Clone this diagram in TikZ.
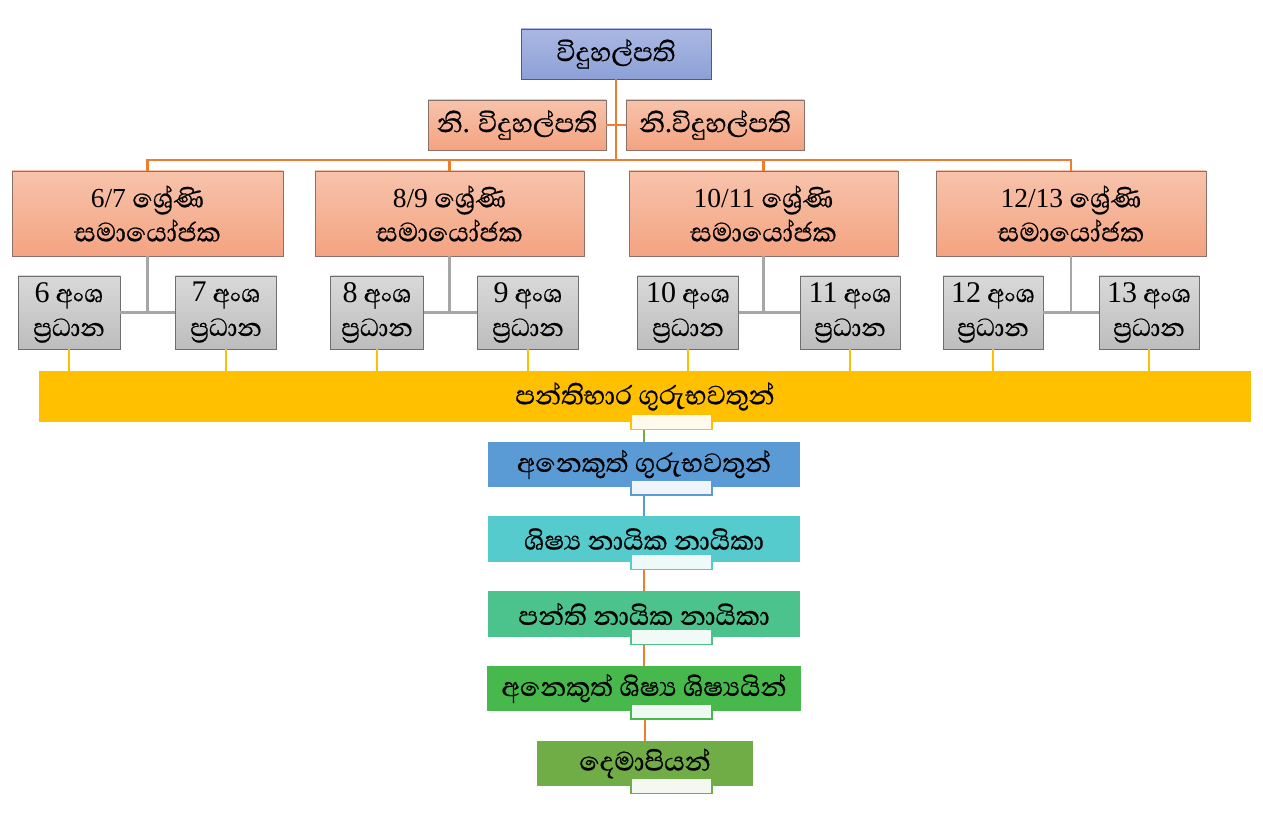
\documentclass[tikz,border=0pt]{standalone}
\usepackage{fontspec}
\setmainfont{Liberation Serif}
\newfontfamily\sinfont[Script=Sinhala,Scale=1.3,FakeBold=0.6]{Abhaya Libre}
\newcommand\numtxt[2]{{\fontsize{#1}{#1}\selectfont\rmfamily #2}}
\definecolor{topA}{HTML}{AAB7E2}
\definecolor{topB}{HTML}{8DA1D7}
\definecolor{topline}{HTML}{4F5B7C}
\definecolor{orA}{HTML}{F7C3AB}
\definecolor{orB}{HTML}{F4A381}
\definecolor{orline}{HTML}{8A7068}
\definecolor{grA}{HTML}{D9D9D9}
\definecolor{grB}{HTML}{BDBDBD}
\definecolor{grline}{HTML}{6E6E6E}
\definecolor{linor}{HTML}{ED7D31}
\definecolor{lingr}{HTML}{A6A6A6}
\definecolor{yel}{HTML}{FFC000}
\definecolor{blu}{HTML}{5B9BD5}
\definecolor{cya}{HTML}{55CBCD}
\definecolor{grnA}{HTML}{4CC38D}
\definecolor{grnB}{HTML}{47B84C}
\definecolor{grnC}{HTML}{70AD47}
\begin{document}
\begin{tikzpicture}[x=1pt,y=-1pt,
  base/.style={inner sep=0pt, align=center},
  topbox/.style={base, draw=topline, line width=0.9pt, top color=topA, bottom color=topB, font=\sinfont\fontsize{26}{30}\selectfont},
  orbox/.style={base, draw=orline, line width=0.9pt, top color=orA, bottom color=orB},
  greybox/.style={base, draw=grline, line width=0.9pt, top color=grA, bottom color=grB, minimum height=73, font=\sinfont\fontsize{24.5}{34}\selectfont},
  coordbox/.style={orbox, minimum height=85, font=\sinfont\fontsize{26}{34}\selectfont},
  chainbox/.style={base, font=\sinfont\fontsize{26}{30}\selectfont},
  tagbox/.style={line width=1.6pt, minimum width=81, minimum height=15, inner sep=0pt, anchor=north},
  orconn/.style={draw=linor, line width=2.2pt},
  grconn/.style={draw=lingr, line width=2.4pt},
  yconn/.style={draw=yel, line width=2pt},
]
\useasboundingbox (0,0) rectangle (1263,818);

% top
\node[topbox, minimum width=190, minimum height=50] (top) at (616,54) {විදුහල්පති};
\node[orbox, minimum width=178, minimum height=50, font=\sinfont\fontsize{26}{30}\selectfont] (ni1) at (517,125) {නි. විදුහල්පති};
\node[orbox, minimum width=178, minimum height=50, font=\sinfont\fontsize{26}{30}\selectfont] (ni2) at (715,125) {නි.විදුහල්පති};

% coordinators
\node[coordbox, minimum width=271] (c1) at (147.5,213.5) {\numtxt{27.5}{6/7} ශ්^^^^200dරේණි\\සමායෝජක};
\node[coordbox, minimum width=269] (c2) at (449.5,213.5) {\numtxt{27.5}{8/9} ශ්^^^^200dරේණි\\සමායෝජක};
\node[coordbox, minimum width=269] (c3) at (763.5,213.5) {\numtxt{27.5}{10/11} ශ්^^^^200dරේණි\\සමායෝජක};
\node[coordbox, minimum width=270] (c4) at (1071,213.5) {\numtxt{27.5}{12/13} ශ්^^^^200dරේණි\\සමායෝජක};

\coordinate (hb) at (616,160);
\draw[orconn] (top.south) -- (hb);
\draw[orconn] (ni1.east) -- (ni2.west);
\draw[orconn] (c1.north) -- (c1.north |- hb) -- (c4.north |- hb) -- (c4.north);
\draw[orconn] (c2.north) -- (c2.north |- hb);
\draw[orconn] (c3.north) -- (c3.north |- hb);

% grey heads
\node[greybox, minimum width=102] (g6) at (69,312.5) {\numtxt{30}{6} අංශ\\ප්^^^^200dරධාන};
\node[greybox, minimum width=101] (g7) at (226,312.5) {\numtxt{30}{7} අංශ\\ප්^^^^200dරධාන};
\node[greybox, minimum width=93] (g8) at (377,312.5) {\numtxt{30}{8} අංශ\\ප්^^^^200dරධාන};
\node[greybox, minimum width=101] (g9) at (528,312.5) {\numtxt{30}{9} අංශ\\ප්^^^^200dරධාන};
\node[greybox, minimum width=101] (g10) at (688,312.5) {\numtxt{30}{10} අංශ\\ප්^^^^200dරධාන};
\node[greybox, minimum width=100] (g11) at (850,312.5) {\numtxt{30}{11} අංශ\\ප්^^^^200dරධාන};
\node[greybox, minimum width=100] (g12) at (993,312.5) {\numtxt{30}{12} අංශ\\ප්^^^^200dරධාන};
\node[greybox, minimum width=100] (g13) at (1149,312.5) {\numtxt{30}{13} අංශ\\ප්^^^^200dරධාන};

\draw[grconn] (c1.south) -- (c1.south |- g6.east);
\draw[grconn] (g6.east) -- (g7.west);
\draw[grconn] (c2.south) -- (c2.south |- g8.east);
\draw[grconn] (g8.east) -- (g9.west);
\draw[grconn] (c3.south) -- (c3.south |- g10.east);
\draw[grconn] (g10.east) -- (g11.west);
\draw[grconn] (c4.south) -- (c4.south |- g12.east);
\draw[grconn] (g12.east) -- (g13.west);

% chain
\node[chainbox, fill=yel, minimum width=1212, minimum height=51] (yb) at (645,396.5) {පන්තිභාර ගුරුභවතුන්};
\foreach \g in {g6,g7,g8,g9,g10,g11,g12,g13} \draw[yconn] (\g.south) -- (\g.south |- yb.north);

\node[chainbox, fill=blu, minimum width=312, minimum height=45] (b1) at (644,464.5) {අනෙකුත් ගුරුභවතුන්};
\node[chainbox, fill=cya, minimum width=312, minimum height=46] (b2) at (644,539) {ශිෂ්^^^^200dය නායික නායිකා};
\node[chainbox, fill=grnA, minimum width=312, minimum height=46] (b3) at (644,614) {පන්ති නායික නායිකා};
\node[chainbox, fill=grnB, minimum width=314, minimum height=45] (b4) at (644,688.5) {අනෙකුත් ශිෂ්^^^^200dය ශිෂ්^^^^200dයයින්};
\node[chainbox, fill=grnC, minimum width=216, minimum height=45] (b5) at (645,763.5) {දෙමාපියන්};

\node[tagbox, draw=yel, fill=yel!8] (t0) at (671.5,413.5) {};
\node[tagbox, draw=blu, fill=blu!10] (t1) at (671.5,479) {};
\node[tagbox, draw=cya, fill=cya!10] (t2) at (671.5,553.5) {};
\node[tagbox, draw=grnA, fill=grnA!8] (t3) at (671.5,628.5) {};
\node[tagbox, draw=grnB, fill=grnB!8] (t4) at (671.5,703) {};
\node[tagbox, draw=grnC, fill=grnC!8] (t5) at (671.5,777.5) {};

\draw[draw=grnC, line width=1.8pt] (t0.south -| b1.north) -- (b1.north);
\draw[draw=blu, line width=1.8pt] (t1.south -| b2.north) -- (b2.north);
\draw[orconn, line width=1.8pt] (t2.south -| b3.north) -- (b3.north);
\draw[orconn, line width=1.8pt] (t3.south -| b4.north) -- (b4.north);
\draw[orconn, line width=1.8pt] (t4.south -| b5.north) -- (b5.north);
\end{tikzpicture}
\end{document}
